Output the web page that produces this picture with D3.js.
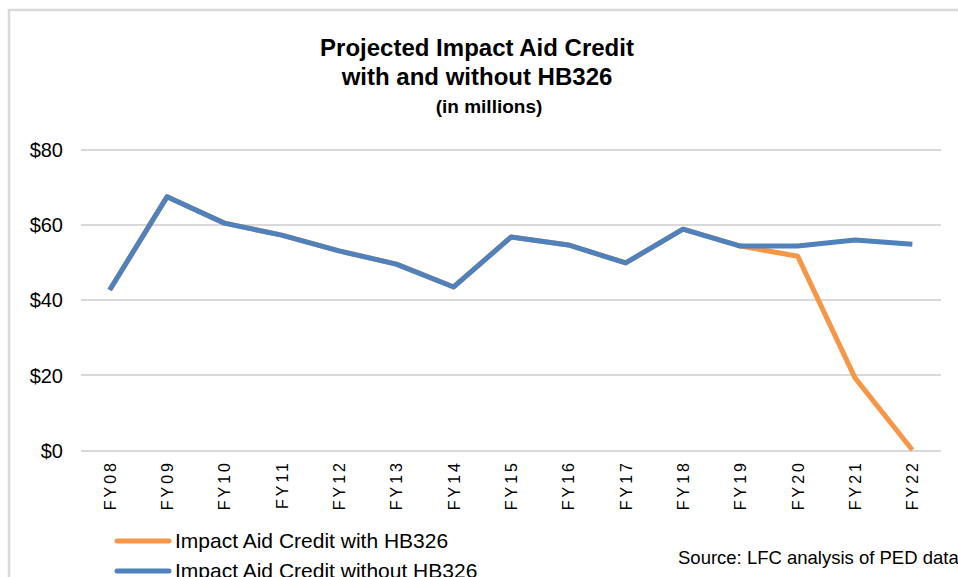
<!DOCTYPE html>
<html lang="en">
<head>
<meta charset="UTF-8">
<title>Projected Impact Aid Credit</title>
<script src="https://cdn.jsdelivr.net/npm/d3@7"></script>
<style>
  body { margin: 0; background: #fff; }
  svg { font-family: "Liberation Sans", Arial, sans-serif; }
  .grid line { stroke: #d9d9d9; stroke-width: 2px; shape-rendering: crispEdges; }
  .grid path { stroke-width: 0; }
  .axis path, .axis line { display: none; }
  .axis text { fill: #000; }
</style>
</head>
<body>
<div id="chart"></div>
<script>
// data
var years = ["FY08","FY09","FY10","FY11","FY12","FY13","FY14","FY15","FY16","FY17","FY18","FY19","FY20","FY21","FY22"];
var withHB326 =    [42.6, 67.4, 60.4, 57.2, 53.0, 49.5, 43.4, 56.7, 54.6, 49.8, 58.8, 54.3, 51.6, 19.2, 0];
var withoutHB326 = [42.6, 67.4, 60.4, 57.2, 53.0, 49.5, 43.4, 56.7, 54.6, 49.8, 58.8, 54.3, 54.3, 55.9, 54.8];
var yTicks = [0, 20, 40, 60, 80];
var seriesNames = ["Impact Aid Credit with HB326", "Impact Aid Credit without HB326"];
var seriesColors = ["#f79646", "#4f81bd"];

var width = 958, height = 577;
var pLeft = 81, pRight = 941, pTop = 149.5, pBottom = 450;

var svg = d3.select("#chart").append("svg")
  .attr("width", width)
  .attr("height", height);

// chart frame (cut off at right/bottom)
svg.append("path")
  .attr("d", "M9," + height + " V10 H" + width)
  .attr("fill", "none")
  .attr("stroke", "#d9d9d9")
  .attr("stroke-width", 2.5);

var x = d3.scalePoint().domain(years).range([pLeft, pRight]).padding(0.5);
var y = d3.scaleLinear().domain([0, 80]).range([pBottom, pTop]);

// grid
svg.append("g")
  .attr("class", "grid")
  .attr("transform", "translate(" + pLeft + ",0)")
  .call(d3.axisLeft(y).tickValues(yTicks).tickSize(pLeft - pRight).tickFormat(""));

// y axis labels
svg.append("g")
  .attr("class", "axis")
  .attr("transform", "translate(" + 63 + ",0)")
  .call(d3.axisLeft(y).tickValues(yTicks).tickSize(0).tickPadding(0).tickFormat(function(d){ return "$" + d; }))
  .selectAll("text")
    .style("font-size", "20px")
    .attr("dy", "0.36em");

// x axis labels
svg.append("g")
  .attr("class", "axis")
  .attr("transform", "translate(0," + pBottom + ")")
  .call(d3.axisBottom(x).tickSize(0).tickPadding(0))
  .selectAll("text")
    .style("font-size", "16px")
    .style("letter-spacing", "3px")
    .style("text-anchor", "end")
    .attr("x", -10)
    .attr("y", 0)
    .attr("dy", "0.35em")
    .attr("transform", "rotate(-90)");

// lines
var line = d3.line()
  .x(function(d, i){ return x(years[i]); })
  .y(function(d){ return y(d); });

[withHB326, withoutHB326].forEach(function(s, i){
  svg.append("path")
    .attr("d", line(s))
    .attr("fill", "none")
    .attr("stroke", seriesColors[i])
    .attr("stroke-width", 5)
    .attr("stroke-linejoin", "round");
});

// title
var title = svg.append("text")
  .attr("text-anchor", "middle")
  .style("font-weight", "bold");
title.append("tspan").attr("x", 477).attr("y", 56).style("font-size", "24px").text("Projected Impact Aid Credit");
title.append("tspan").attr("x", 477).attr("y", 85).style("font-size", "24px").text("with and without HB326");
title.append("tspan").attr("x", 489).attr("y", 113).style("font-size", "19px").text("(in millions)");

// legend
seriesNames.forEach(function(n, i){
  var ly = 541 + i * 30;
  svg.append("line")
    .attr("x1", 117).attr("x2", 169)
    .attr("y1", ly).attr("y2", ly)
    .attr("stroke", seriesColors[i])
    .attr("stroke-width", 5)
    .attr("stroke-linecap", "round");
  svg.append("text")
    .attr("x", 175).attr("y", ly + 7)
    .style("font-size", "21px")
    .text(n);
});

// source
svg.append("text")
  .attr("x", 678).attr("y", 564)
  .style("font-size", "18.5px")
  .text("Source: LFC analysis of PED data");
</script>
</body>
</html>
